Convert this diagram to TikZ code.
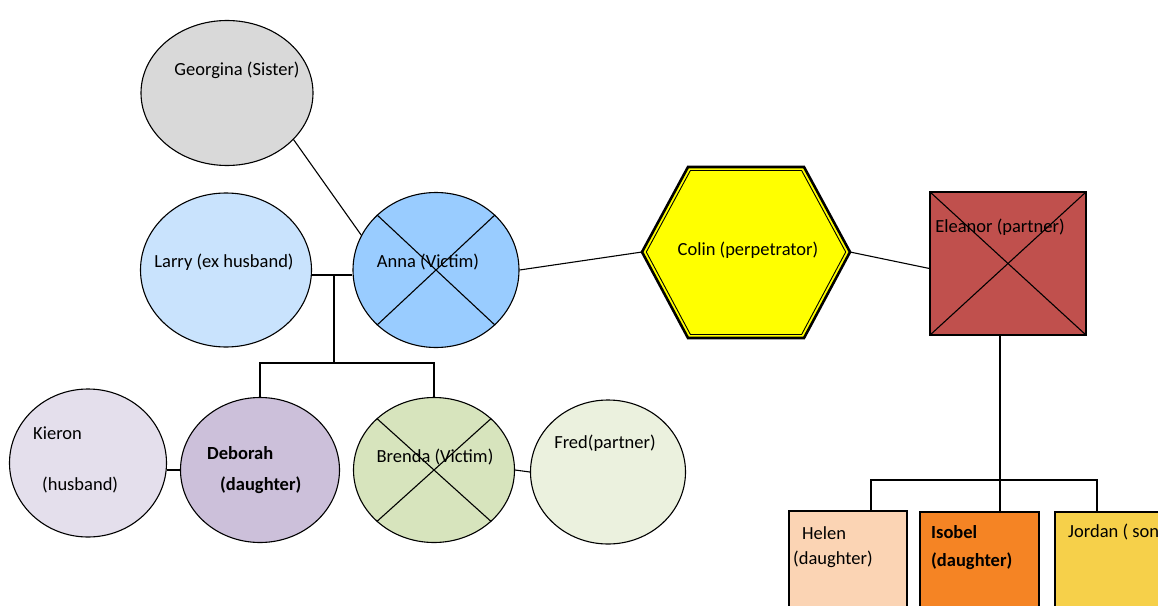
\documentclass[tikz,border=0pt]{standalone}
\usepackage{fontspec}
\setmainfont{Carlito}
\usetikzlibrary{shapes.geometric,calc}
\definecolor{cGeo}{HTML}{D9D9D9}
\definecolor{cLarry}{HTML}{C9E3FD}
\definecolor{cAnna}{HTML}{99CCFF}
\definecolor{cKie}{HTML}{E4DFEC}
\definecolor{cDeb}{HTML}{CCC0DA}
\definecolor{cBren}{HTML}{D7E4BD}
\definecolor{cFred}{HTML}{EBF1DE}
\definecolor{cEl}{HTML}{C0504D}
\definecolor{cHel}{HTML}{FBD4B4}
\definecolor{cIso}{HTML}{F58424}
\definecolor{cJor}{HTML}{F6D04A}
\definecolor{cCol}{HTML}{FFFF00}
\begin{document}
\begin{tikzpicture}[x=1pt,y=-1pt,
  person/.style={draw=black, ellipse, inner sep=0pt, line width=1.1pt},
  famrect/.style={draw=black, rectangle, inner sep=0pt, line width=1.1pt},
  txt/.style={font=\fontsize{18.5}{22}\selectfont, inner sep=0pt},
  btxt/.style={font=\fontsize{18.5}{22}\selectfont\bfseries, inner sep=0pt},
  link/.style={draw=black, line width=1.1pt},
  cross/.style={draw=black, line width=1.1pt}]
\useasboundingbox (0,0) rectangle (1158,605);
\clip (0,0) rectangle (1158,605);
\fill[white] (0,0) rectangle (1158,605);

% people
\node[person, fill=cGeo, minimum width=172pt, minimum height=145pt] (geo) at (227,93) {};
\node[person, fill=cLarry, minimum width=171pt, minimum height=154pt] (larry) at (226,270) {};
\node[person, fill=cAnna, minimum width=166pt, minimum height=155pt] (anna) at (436,270) {};
\node[person, fill=cKie, minimum width=157pt, minimum height=148pt] (kie) at (88,463) {};
\node[person, fill=cDeb, minimum width=159pt, minimum height=145pt] (deb) at (260,470) {};
\node[person, fill=cBren, minimum width=161pt, minimum height=145pt] (bren) at (434,470) {};
\node[person, fill=cFred, minimum width=155pt, minimum height=144pt] (fred) at (608,472) {};
\node[famrect, fill=cEl, minimum width=156pt, minimum height=143pt] (el) at (1008,263.5) {};
\node[famrect, fill=cHel, minimum width=118pt, minimum height=129pt] (helen) at (848,575.5) {};
\node[famrect, fill=cIso, minimum width=119pt, minimum height=128pt] (isob) at (979.5,576) {};
\node[famrect, fill=cJor, minimum width=145pt, minimum height=128pt] (jor) at (1127.5,576) {};

% Colin hexagon (triple border)
\coordinate (cL) at (642,252);
\coordinate (cR) at (850,252);
\fill[cCol] (cL) -- (688,167) -- (804,167) -- (cR) -- (804,338) -- (688,338) -- cycle;
\draw[line width=2.6pt, line join=miter] (cL) -- (688,167) -- (804,167) -- (cR) -- (804,338) -- (688,338) -- cycle;
\draw[line width=0.9pt, line join=miter] (646.3,252) -- (690.4,170.5) -- (801.6,170.5) -- (845.7,252) -- (801.6,334.5) -- (690.4,334.5) -- cycle;

% crosses
\draw[cross] (anna.north west) -- (anna.south east);
\draw[cross] (anna.north east) -- (anna.south west);
\draw[cross] (bren.north west) -- (bren.south east);
\draw[cross] (bren.north east) -- (bren.south west);
\draw[cross] (el.north west) -- (el.south east);
\draw[cross] (el.north east) -- (el.south west);

% texts
\node[txt] (geot) at (237,70) {Georgina (Sister)};
\node[txt] (larryt) at (224,262) {Larry (ex husband)};
\node[txt] (annat) at (428,262) {Anna (Victim)};
\node[txt] (colin) at (748,250) {Colin (perpetrator)};
\node[txt] (elt) at (1000,227) {Eleanor (partner)};
\node[txt, anchor=west] (kiet1) at (33,433) {Kieron};
\node[txt, anchor=west] (kiet2) at (42,485) {(husband)};
\node[btxt, anchor=west] (debt1) at (207,453) {Deborah};
\node[btxt, anchor=west] (debt2) at (220,485) {(daughter)};
\node[txt] (brent) at (435,457) {Brenda (Victim)};
\node[txt] (fredt) at (605,443) {Fred(partner)};
\node[txt, anchor=west] (helt1) at (802,533) {Helen};
\node[txt, anchor=west] (helt2) at (793,559) {(daughter)};
\node[btxt, anchor=west] (isot1) at (931,532) {Isobel};
\node[btxt, anchor=west] (isot2) at (931,561) {(daughter)};
\node[txt, anchor=west] (jort) at (1068,532) {Jordan ( son)};

% connectors
\draw[link] (geo.-35.5) -- (anna.155);
\draw[link] ($(larry.east)+(0,5)$) -- ($(anna.west)+(0,5)$);
\coordinate (m1) at (334,275);
\coordinate (m2) at (334,363);
\draw[link] (m1) -- (m2);
\draw[link] (deb.north) -- (deb.north |- m2) -- (bren.north |- m2) -- (bren.north);
\draw[link] (deb.west -| kie.east) -- (deb.west);
\draw[link] (bren.east) -- (fred.west);
\draw[link] (anna.east) -- (cL);
\draw[link] (cR) -- ($(el.west)+(0,5)$);
\coordinate (e1) at (1000,480);
\draw[link] (e1 |- el.south) -- (e1 |- isob.north);
\coordinate (hb) at (871,480);
\coordinate (jb) at (1097,480);
\draw[link] (hb |- helen.north) -- (hb) -- (jb) -- (jb |- jor.north);
\end{tikzpicture}
\end{document}
